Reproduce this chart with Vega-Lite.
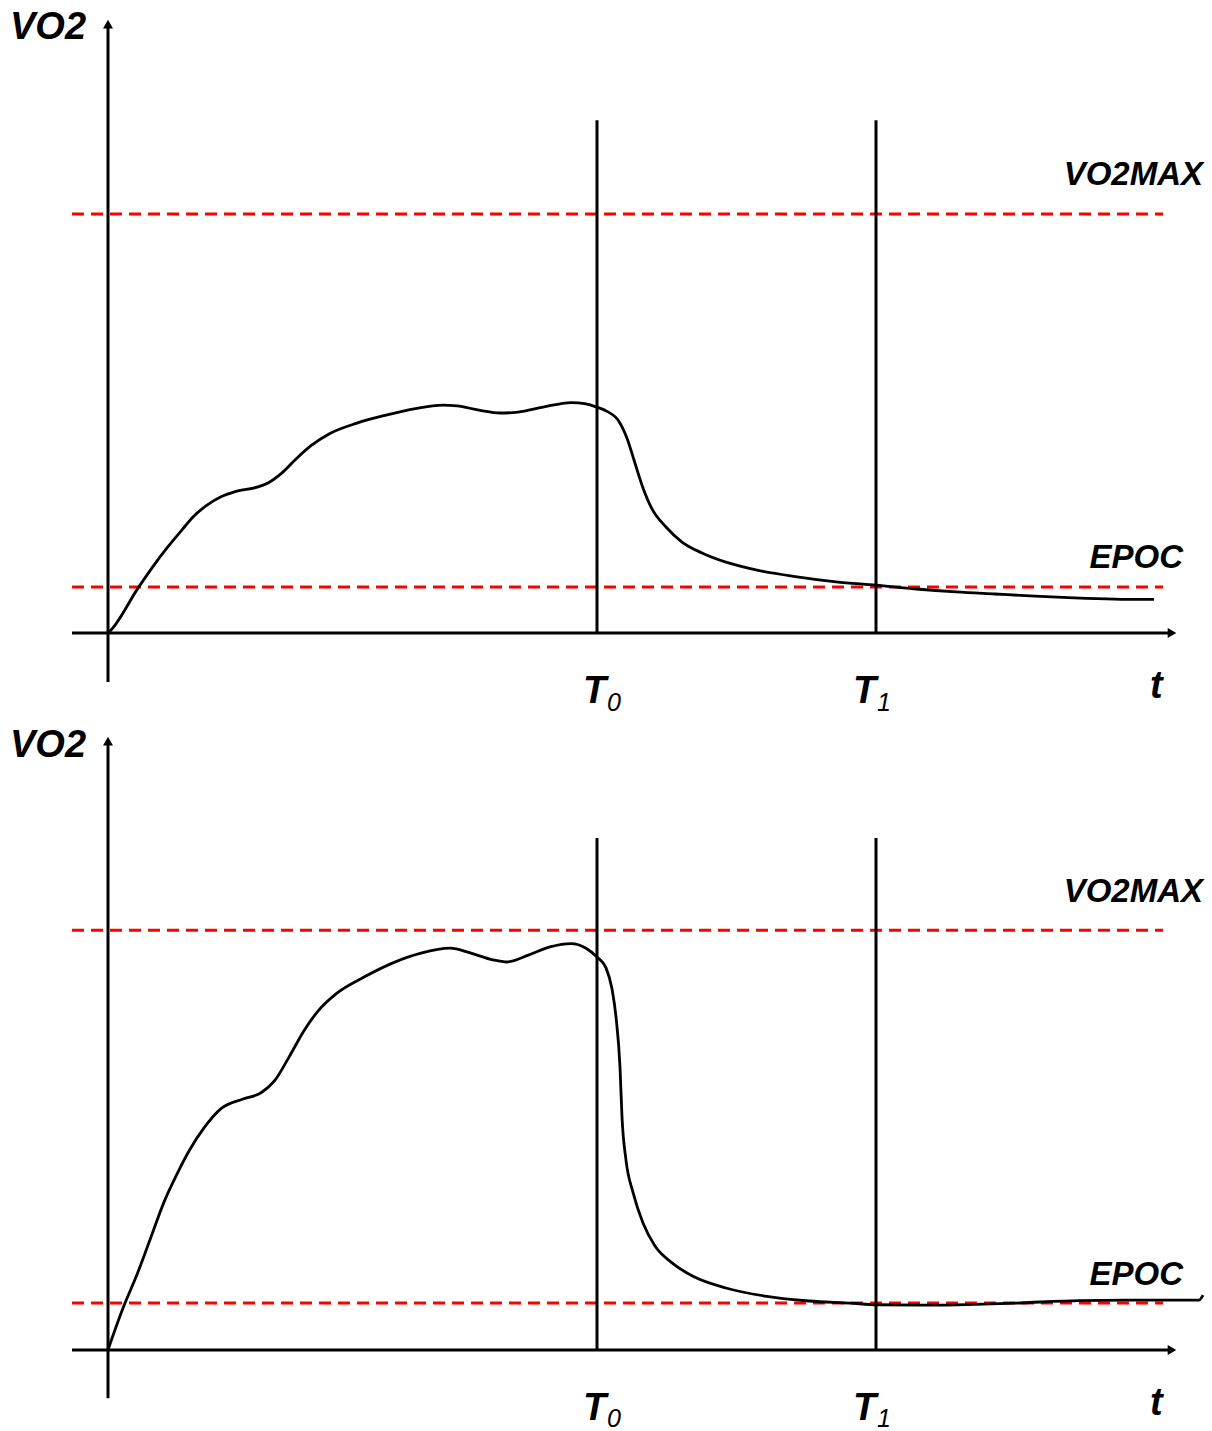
{
  "$schema": "https://vega.github.io/schema/vega-lite/v6.json",
  "padding": 0,
  "spacing": 0,
  "bounds": "flush",
  "background": "white",
  "config": {"view": {"stroke": null}, "font": "Liberation Sans"},
  "datasets": {
    "curves": [
      {"panel": "A", "t": 0, "v": 0}, {"panel": "A", "t": 0.3, "v": 0.7}, {"panel": "A", "t": 3.0, "v": 10.7}, {"panel": "A", "t": 4.6, "v": 16.2},
      {"panel": "A", "t": 5.8, "v": 20.0}, {"panel": "A", "t": 7.4, "v": 24.6}, {"panel": "A", "t": 8.5, "v": 27.7}, {"panel": "A", "t": 9.9, "v": 30.5},
      {"panel": "A", "t": 11.3, "v": 32.5}, {"panel": "A", "t": 12.8, "v": 33.8}, {"panel": "A", "t": 14.9, "v": 34.8}, {"panel": "A", "t": 16.0, "v": 35.8},
      {"panel": "A", "t": 17.4, "v": 38.2}, {"panel": "A", "t": 18.7, "v": 41.3}, {"panel": "A", "t": 20.3, "v": 44.7}, {"panel": "A", "t": 22.1, "v": 47.5},
      {"panel": "A", "t": 24.9, "v": 50.1}, {"panel": "A", "t": 27.8, "v": 52.0}, {"panel": "A", "t": 30.6, "v": 53.5}, {"panel": "A", "t": 33.5, "v": 54.4},
      {"panel": "A", "t": 34.9, "v": 54.2}, {"panel": "A", "t": 37.1, "v": 53.2}, {"panel": "A", "t": 39.2, "v": 52.5}, {"panel": "A", "t": 41.0, "v": 52.7},
      {"panel": "A", "t": 43.5, "v": 53.9}, {"panel": "A", "t": 46.3, "v": 55.0}, {"panel": "A", "t": 47.8, "v": 54.7}, {"panel": "A", "t": 48.9, "v": 53.9},
      {"panel": "A", "t": 49.9, "v": 52.9}, {"panel": "A", "t": 51.1, "v": 50.5}, {"panel": "A", "t": 51.9, "v": 46.5}, {"panel": "A", "t": 52.7, "v": 40.5},
      {"panel": "A", "t": 53.5, "v": 34.6}, {"panel": "A", "t": 54.4, "v": 29.6}, {"panel": "A", "t": 55.8, "v": 25.3}, {"panel": "A", "t": 57.4, "v": 21.7},
      {"panel": "A", "t": 59.4, "v": 19.1}, {"panel": "A", "t": 61.8, "v": 16.9}, {"panel": "A", "t": 64.9, "v": 15.0}, {"panel": "A", "t": 68.9, "v": 13.4},
      {"panel": "A", "t": 72.8, "v": 12.2}, {"panel": "A", "t": 76.8, "v": 11.4}, {"panel": "A", "t": 80.8, "v": 10.5}, {"panel": "A", "t": 84.8, "v": 9.8},
      {"panel": "A", "t": 88.7, "v": 9.3}, {"panel": "A", "t": 92.7, "v": 8.8}, {"panel": "A", "t": 96.6, "v": 8.4}, {"panel": "A", "t": 100.6, "v": 8.1},
      {"panel": "A", "t": 104.6, "v": 8.0},
      {"panel": "B", "t": 0, "v": 0}, {"panel": "B", "t": 0.1, "v": 0.7}, {"panel": "B", "t": 1.7, "v": 11.2}, {"panel": "B", "t": 2.8, "v": 17.4},
      {"panel": "B", "t": 4.2, "v": 26.3}, {"panel": "B", "t": 5.6, "v": 35.3}, {"panel": "B", "t": 6.9, "v": 42.0}, {"panel": "B", "t": 8.1, "v": 47.5},
      {"panel": "B", "t": 9.6, "v": 53.0}, {"panel": "B", "t": 11.3, "v": 57.6}, {"panel": "B", "t": 13.5, "v": 59.9}, {"panel": "B", "t": 15.3, "v": 61.4},
      {"panel": "B", "t": 16.7, "v": 64.4}, {"panel": "B", "t": 18.1, "v": 69.9}, {"panel": "B", "t": 19.6, "v": 76.2}, {"panel": "B", "t": 21.0, "v": 80.9},
      {"panel": "B", "t": 22.8, "v": 85.0}, {"panel": "B", "t": 25.6, "v": 89.0}, {"panel": "B", "t": 28.5, "v": 92.4}, {"panel": "B", "t": 31.3, "v": 94.7},
      {"panel": "B", "t": 34.2, "v": 95.9}, {"panel": "B", "t": 36.3, "v": 94.7}, {"panel": "B", "t": 38.5, "v": 93.1}, {"panel": "B", "t": 39.9, "v": 92.6},
      {"panel": "B", "t": 42.1, "v": 94.3}, {"panel": "B", "t": 44.2, "v": 96.2}, {"panel": "B", "t": 46.3, "v": 97.0}, {"panel": "B", "t": 47.8, "v": 95.9},
      {"panel": "B", "t": 48.9, "v": 93.8}, {"panel": "B", "t": 49.8, "v": 91.2}, {"panel": "B", "t": 50.4, "v": 86.2}, {"panel": "B", "t": 50.8, "v": 79.5},
      {"panel": "B", "t": 51.2, "v": 67.5}, {"panel": "B", "t": 51.4, "v": 55.6}, {"panel": "B", "t": 51.8, "v": 45.3}, {"panel": "B", "t": 52.5, "v": 37.6},
      {"panel": "B", "t": 53.5, "v": 30.3}, {"panel": "B", "t": 54.7, "v": 24.8}, {"panel": "B", "t": 56.4, "v": 20.8}, {"panel": "B", "t": 58.5, "v": 17.6},
      {"panel": "B", "t": 61.8, "v": 14.8}, {"panel": "B", "t": 65.9, "v": 12.8}, {"panel": "B", "t": 70.1, "v": 11.7}, {"panel": "B", "t": 74.2, "v": 11.2},
      {"panel": "B", "t": 76.9, "v": 10.8}, {"panel": "B", "t": 82.5, "v": 10.7}, {"panel": "B", "t": 86.7, "v": 10.9}, {"panel": "B", "t": 90.8, "v": 11.2},
      {"panel": "B", "t": 97.1, "v": 11.8}, {"panel": "B", "t": 103.3, "v": 11.9}, {"panel": "B", "t": 109.1, "v": 11.9}, {"panel": "B", "t": 109.5, "v": 13.1}
    ],
    "refs": [
      {"panel": "A", "name": "VO2MAX", "ta": -3.6, "tb": 105.5, "v": 100},
      {"panel": "A", "name": "EPOC", "ta": -3.6, "tb": 105.5, "v": 11},
      {"panel": "B", "name": "VO2MAX", "ta": -3.6, "tb": 105.5, "v": 100.2},
      {"panel": "B", "name": "EPOC", "ta": -3.6, "tb": 105.5, "v": 11.2}
    ],
    "rules": [
      {"panel": "A", "kind": "t-axis", "ta": -3.6, "tb": 106.4, "va": 0, "vb": 0},
      {"panel": "A", "kind": "VO2-axis", "ta": 0, "tb": 0, "va": -11.7, "vb": 145},
      {"panel": "A", "kind": "T0", "ta": 48.9, "tb": 48.9, "va": 0, "vb": 122.4},
      {"panel": "A", "kind": "T1", "ta": 76.8, "tb": 76.8, "va": 0, "vb": 122.4},
      {"panel": "B", "kind": "t-axis", "ta": -3.6, "tb": 106.4, "va": 0, "vb": 0},
      {"panel": "B", "kind": "VO2-axis", "ta": 0, "tb": 0, "va": -11.5, "vb": 145},
      {"panel": "B", "kind": "T0", "ta": 48.9, "tb": 48.9, "va": 0, "vb": 122.2},
      {"panel": "B", "kind": "T1", "ta": 76.8, "tb": 76.8, "va": 0, "vb": 122.2}
    ],
    "arrows": [
      {"panel": "A", "dir": "up", "t": 0, "v": 145.3},
      {"panel": "A", "dir": "right", "t": 106.4, "v": 0},
      {"panel": "B", "dir": "up", "t": 0, "v": 145.3},
      {"panel": "B", "dir": "right", "t": 106.4, "v": 0}
    ],
    "bigLabels": [
      {"panel": "A", "label": "VO2", "t": -9.8, "v": 141.8},
      {"panel": "A", "label": "T", "t": 47.5, "v": -16.7},
      {"panel": "A", "label": "T", "t": 74.5, "v": -16.7},
      {"panel": "A", "label": "t", "t": 104.2, "v": -15.5},
      {"panel": "B", "label": "VO2", "t": -9.8, "v": 141.5},
      {"panel": "B", "label": "T", "t": 47.5, "v": -16.7},
      {"panel": "B", "label": "T", "t": 74.5, "v": -16.7},
      {"panel": "B", "label": "t", "t": 104.2, "v": -15.5}
    ],
    "refLabels": [
      {"panel": "A", "label": "VO2MAX", "t": 109.5, "v": 106.9},
      {"panel": "A", "label": "EPOC", "t": 107.5, "v": 15.5},
      {"panel": "B", "label": "VO2MAX", "t": 109.5, "v": 106.9},
      {"panel": "B", "label": "EPOC", "t": 107.5, "v": 15.5}
    ],
    "subLabels": [
      {"panel": "A", "label": "0", "t": 49.9, "v": -18.6},
      {"panel": "A", "label": "1", "t": 76.9, "v": -18.6},
      {"panel": "B", "label": "0", "t": 49.9, "v": -18.3},
      {"panel": "B", "label": "1", "t": 76.9, "v": -18.3}
    ]
  },
  "vconcat": [
    {
      "width": 1212,
      "height": 717,
      "layer": [
        {
          "data": {"name": "refs"},
          "transform": [{"filter": "datum.panel == 'A'"}],
          "mark": {"type": "rule", "color": "#ff0000", "strokeWidth": 3, "strokeDash": [12, 7]},
          "encoding": {
            "x": {"field": "ta", "type": "quantitative", "scale": {"domain": [-10.8, 110.4], "nice": false, "zero": false}, "axis": null},
            "x2": {"field": "tb"},
            "y": {"field": "v", "type": "quantitative", "scale": {"domain": [-20.05, 151.07], "nice": false, "zero": false}, "axis": null}
          }
        },
        {
          "data": {"name": "rules"},
          "transform": [{"filter": "datum.panel == 'A'"}],
          "mark": {"type": "rule", "color": "black", "strokeWidth": 3},
          "encoding": {
            "x": {"field": "ta", "type": "quantitative", "scale": {"domain": [-10.8, 110.4], "nice": false, "zero": false}, "axis": null},
            "x2": {"field": "tb"},
            "y": {"field": "va", "type": "quantitative", "scale": {"domain": [-20.05, 151.07], "nice": false, "zero": false}, "axis": null},
            "y2": {"field": "vb"}
          }
        },
        {
          "data": {"name": "arrows"},
          "transform": [{"filter": "datum.panel == 'A'"}],
          "mark": {"type": "point", "filled": true, "color": "black", "size": 100, "opacity": 1},
          "encoding": {
            "x": {"field": "t", "type": "quantitative", "scale": {"domain": [-10.8, 110.4], "nice": false, "zero": false}, "axis": null},
            "y": {"field": "v", "type": "quantitative", "scale": {"domain": [-20.05, 151.07], "nice": false, "zero": false}, "axis": null},
            "shape": {"field": "dir", "type": "nominal", "scale": {"domain": ["up", "right"], "range": ["triangle-up", "triangle-right"]}, "legend": null}
          }
        },
        {
          "data": {"name": "curves"},
          "transform": [{"filter": "datum.panel == 'A'"}],
          "mark": {"type": "line", "color": "black", "strokeWidth": 2.8, "interpolate": "monotone"},
          "encoding": {
            "x": {"field": "t", "type": "quantitative", "scale": {"domain": [-10.8, 110.4], "nice": false, "zero": false}, "axis": null},
            "y": {"field": "v", "type": "quantitative", "scale": {"domain": [-20.05, 151.07], "nice": false, "zero": false}, "axis": null}
          }
        },
        {
          "data": {"name": "bigLabels"},
          "transform": [{"filter": "datum.panel == 'A'"}],
          "mark": {"type": "text", "font": "Liberation Sans", "fontSize": 38, "fontWeight": "bold", "fontStyle": "italic", "align": "left", "baseline": "alphabetic", "color": "black"},
          "encoding": {
            "x": {"field": "t", "type": "quantitative", "scale": {"domain": [-10.8, 110.4], "nice": false, "zero": false}, "axis": null},
            "y": {"field": "v", "type": "quantitative", "scale": {"domain": [-20.05, 151.07], "nice": false, "zero": false}, "axis": null},
            "text": {"field": "label"}
          }
        },
        {
          "data": {"name": "refLabels"},
          "transform": [{"filter": "datum.panel == 'A'"}],
          "mark": {"type": "text", "font": "Liberation Sans", "fontSize": 33, "fontWeight": "bold", "fontStyle": "italic", "align": "right", "baseline": "alphabetic", "color": "black"},
          "encoding": {
            "x": {"field": "t", "type": "quantitative", "scale": {"domain": [-10.8, 110.4], "nice": false, "zero": false}, "axis": null},
            "y": {"field": "v", "type": "quantitative", "scale": {"domain": [-20.05, 151.07], "nice": false, "zero": false}, "axis": null},
            "text": {"field": "label"}
          }
        },
        {
          "data": {"name": "subLabels"},
          "transform": [{"filter": "datum.panel == 'A'"}],
          "mark": {"type": "text", "font": "Liberation Sans", "fontSize": 25, "fontStyle": "italic", "align": "left", "baseline": "alphabetic", "color": "black"},
          "encoding": {
            "x": {"field": "t", "type": "quantitative", "scale": {"domain": [-10.8, 110.4], "nice": false, "zero": false}, "axis": null},
            "y": {"field": "v", "type": "quantitative", "scale": {"domain": [-20.05, 151.07], "nice": false, "zero": false}, "axis": null},
            "text": {"field": "label"}
          }
        }
      ]
    },
    {
      "width": 1212,
      "height": 714,
      "layer": [
        {
          "data": {"name": "refs"},
          "transform": [{"filter": "datum.panel == 'B'"}],
          "mark": {"type": "rule", "color": "#ff0000", "strokeWidth": 3, "strokeDash": [12, 7]},
          "encoding": {
            "x": {"field": "ta", "type": "quantitative", "scale": {"domain": [-10.8, 110.4], "nice": false, "zero": false}, "axis": null},
            "x2": {"field": "tb"},
            "y": {"field": "v", "type": "quantitative", "scale": {"domain": [-19.33, 151.07], "nice": false, "zero": false}, "axis": null}
          }
        },
        {
          "data": {"name": "rules"},
          "transform": [{"filter": "datum.panel == 'B'"}],
          "mark": {"type": "rule", "color": "black", "strokeWidth": 3},
          "encoding": {
            "x": {"field": "ta", "type": "quantitative", "scale": {"domain": [-10.8, 110.4], "nice": false, "zero": false}, "axis": null},
            "x2": {"field": "tb"},
            "y": {"field": "va", "type": "quantitative", "scale": {"domain": [-19.33, 151.07], "nice": false, "zero": false}, "axis": null},
            "y2": {"field": "vb"}
          }
        },
        {
          "data": {"name": "arrows"},
          "transform": [{"filter": "datum.panel == 'B'"}],
          "mark": {"type": "point", "filled": true, "color": "black", "size": 100, "opacity": 1},
          "encoding": {
            "x": {"field": "t", "type": "quantitative", "scale": {"domain": [-10.8, 110.4], "nice": false, "zero": false}, "axis": null},
            "y": {"field": "v", "type": "quantitative", "scale": {"domain": [-19.33, 151.07], "nice": false, "zero": false}, "axis": null},
            "shape": {"field": "dir", "type": "nominal", "scale": {"domain": ["up", "right"], "range": ["triangle-up", "triangle-right"]}, "legend": null}
          }
        },
        {
          "data": {"name": "curves"},
          "transform": [{"filter": "datum.panel == 'B'"}],
          "mark": {"type": "line", "color": "black", "strokeWidth": 2.8, "interpolate": "monotone"},
          "encoding": {
            "x": {"field": "t", "type": "quantitative", "scale": {"domain": [-10.8, 110.4], "nice": false, "zero": false}, "axis": null},
            "y": {"field": "v", "type": "quantitative", "scale": {"domain": [-19.33, 151.07], "nice": false, "zero": false}, "axis": null}
          }
        },
        {
          "data": {"name": "bigLabels"},
          "transform": [{"filter": "datum.panel == 'B'"}],
          "mark": {"type": "text", "font": "Liberation Sans", "fontSize": 38, "fontWeight": "bold", "fontStyle": "italic", "align": "left", "baseline": "alphabetic", "color": "black"},
          "encoding": {
            "x": {"field": "t", "type": "quantitative", "scale": {"domain": [-10.8, 110.4], "nice": false, "zero": false}, "axis": null},
            "y": {"field": "v", "type": "quantitative", "scale": {"domain": [-19.33, 151.07], "nice": false, "zero": false}, "axis": null},
            "text": {"field": "label"}
          }
        },
        {
          "data": {"name": "refLabels"},
          "transform": [{"filter": "datum.panel == 'B'"}],
          "mark": {"type": "text", "font": "Liberation Sans", "fontSize": 33, "fontWeight": "bold", "fontStyle": "italic", "align": "right", "baseline": "alphabetic", "color": "black"},
          "encoding": {
            "x": {"field": "t", "type": "quantitative", "scale": {"domain": [-10.8, 110.4], "nice": false, "zero": false}, "axis": null},
            "y": {"field": "v", "type": "quantitative", "scale": {"domain": [-19.33, 151.07], "nice": false, "zero": false}, "axis": null},
            "text": {"field": "label"}
          }
        },
        {
          "data": {"name": "subLabels"},
          "transform": [{"filter": "datum.panel == 'B'"}],
          "mark": {"type": "text", "font": "Liberation Sans", "fontSize": 25, "fontStyle": "italic", "align": "left", "baseline": "alphabetic", "color": "black"},
          "encoding": {
            "x": {"field": "t", "type": "quantitative", "scale": {"domain": [-10.8, 110.4], "nice": false, "zero": false}, "axis": null},
            "y": {"field": "v", "type": "quantitative", "scale": {"domain": [-19.33, 151.07], "nice": false, "zero": false}, "axis": null},
            "text": {"field": "label"}
          }
        }
      ]
    }
  ]
}
